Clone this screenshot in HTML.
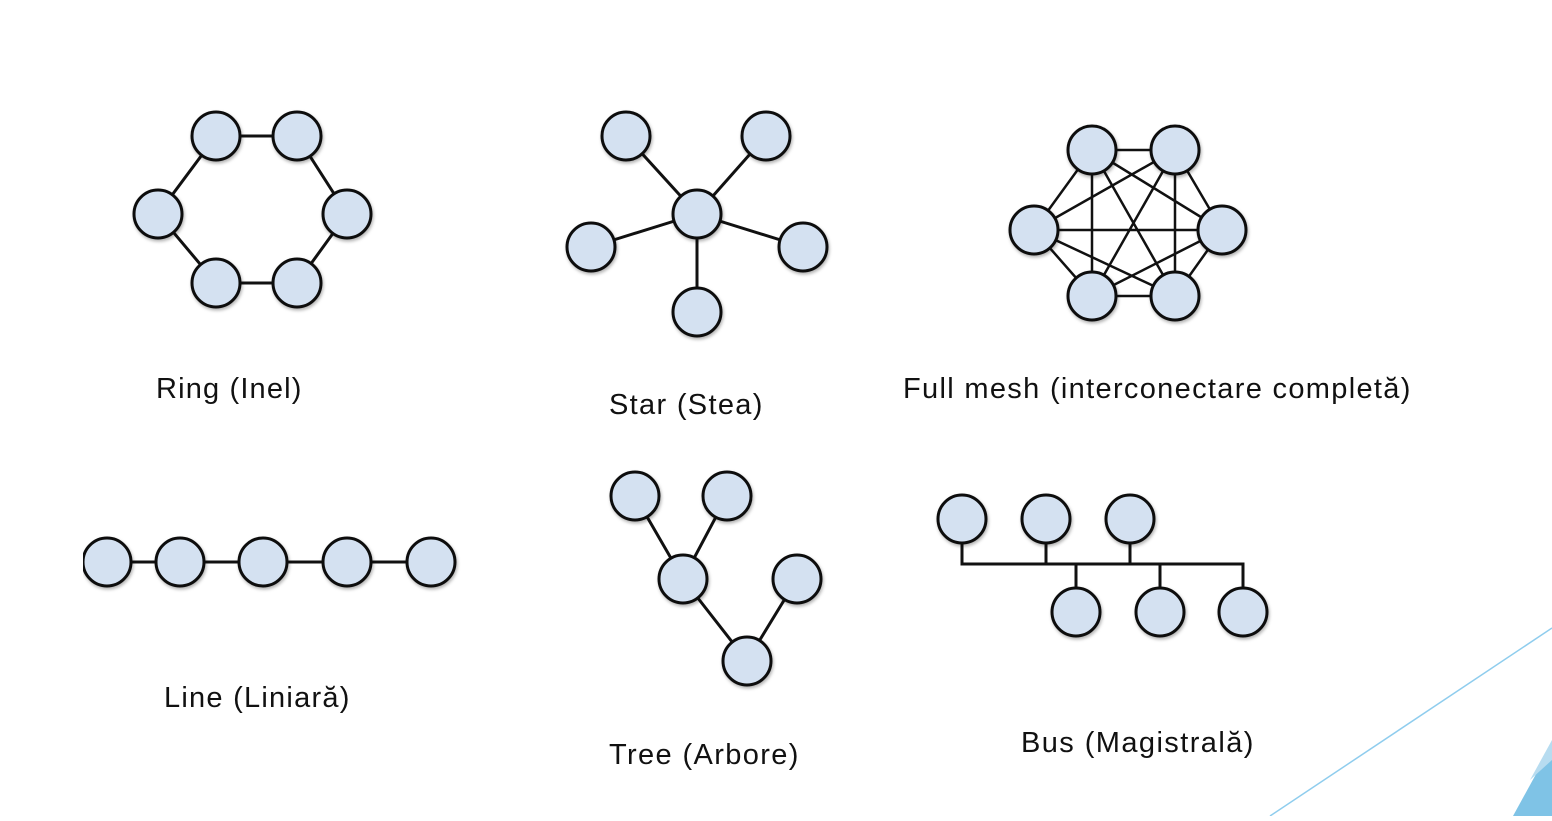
<!DOCTYPE html>
<html><head><style>
body{margin:0;width:1552px;height:816px;background:#fff;overflow:hidden}
svg text{font-family:"Liberation Sans",Arial,sans-serif;font-size:29px;letter-spacing:0.6px;fill:#111}
</style></head><body>
<svg width="1552" height="816" xmlns="http://www.w3.org/2000/svg">
<defs><filter id="s" x="-30%" y="-30%" width="160%" height="160%"><feDropShadow dx="1" dy="2" stdDeviation="1.5" flood-opacity="0.3"/></filter></defs>
<polygon points="1513,816 1552,745 1552,816" fill="#7fc3e6"/>
<polygon points="1530,780 1552,740 1552,760" fill="#b7dcf0"/>
<line x1="1270" y1="816" x2="1552" y2="628" stroke="#8fcdee" stroke-width="1.5"/>
<g stroke="#111" stroke-width="3" fill="none">
<polygon points="216,136 297,136 347,214 297,283 216,283 158,214"/>
<line x1="697" y1="214" x2="626" y2="136"/><line x1="697" y1="214" x2="766" y2="136"/>
<line x1="697" y1="214" x2="591" y2="247"/><line x1="697" y1="214" x2="803" y2="247"/>
<line x1="697" y1="214" x2="697" y2="312"/>
<path d="M1092,150L1175,150L1034,230L1222,230L1092,296L1175,296L1092,150L1034,230M1092,150L1222,230M1092,150L1092,296M1175,150L1222,230M1175,150L1092,296M1175,150L1175,296M1034,230L1092,296M1034,230L1175,296M1222,230L1092,296M1222,230L1175,296M1092,150L1175,296M1034,230L1175,150" stroke-width="2.5"/>
<line x1="85" y1="562" x2="431" y2="562"/>
<path d="M635,496L683,579L727,496M683,579L747,661L797,579"/>
<path d="M962,519V564H1243V612M1046,519V564M1130,519V564M1076,564V612M1160,564V612"/>
</g>
<g fill="#d4e1f1" stroke="#111" stroke-width="3" filter="url(#s)">
<circle cx="216" cy="136" r="24"/><circle cx="297" cy="136" r="24"/><circle cx="158" cy="214" r="24"/><circle cx="347" cy="214" r="24"/><circle cx="216" cy="283" r="24"/><circle cx="297" cy="283" r="24"/>
<circle cx="697" cy="214" r="24"/><circle cx="626" cy="136" r="24"/><circle cx="766" cy="136" r="24"/><circle cx="591" cy="247" r="24"/><circle cx="803" cy="247" r="24"/><circle cx="697" cy="312" r="24"/>
<circle cx="1092" cy="150" r="24"/><circle cx="1175" cy="150" r="24"/><circle cx="1034" cy="230" r="24"/><circle cx="1222" cy="230" r="24"/><circle cx="1092" cy="296" r="24"/><circle cx="1175" cy="296" r="24"/>
<circle cx="107" cy="562" r="24"/><circle cx="180" cy="562" r="24"/><circle cx="263" cy="562" r="24"/><circle cx="347" cy="562" r="24"/><circle cx="431" cy="562" r="24"/>
<circle cx="635" cy="496" r="24"/><circle cx="727" cy="496" r="24"/><circle cx="683" cy="579" r="24"/><circle cx="797" cy="579" r="24"/><circle cx="747" cy="661" r="24"/>
<circle cx="962" cy="519" r="24"/><circle cx="1046" cy="519" r="24"/><circle cx="1130" cy="519" r="24"/><circle cx="1076" cy="612" r="24"/><circle cx="1160" cy="612" r="24"/><circle cx="1243" cy="612" r="24"/>
</g>
<rect x="60" y="530" width="23" height="70" fill="#fff"/>
<text x="156" y="398" textLength="146">Ring (Inel)</text>
<text x="609" y="414" textLength="154">Star (Stea)</text>
<text x="903" y="398" textLength="508">Full mesh (interconectare completă)</text>
<text x="164" y="707" textLength="186">Line (Liniară)</text>
<text x="609" y="764" textLength="190">Tree (Arbore)</text>
<text x="1021" y="752" textLength="233">Bus (Magistrală)</text>
</svg>
</body></html>
